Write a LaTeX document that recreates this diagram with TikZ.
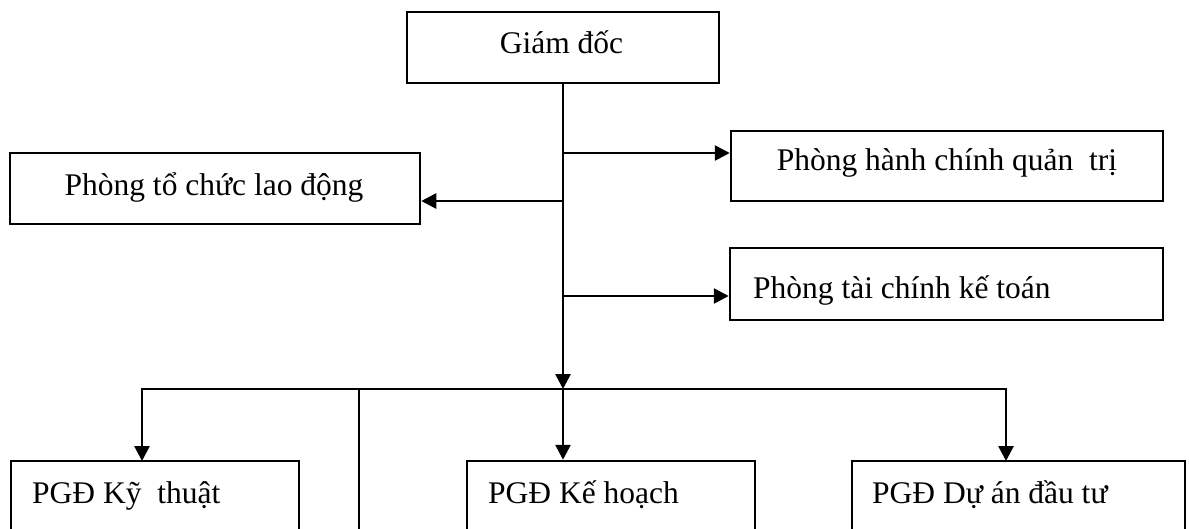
\documentclass[tikz,border=0pt]{standalone}
\usepackage{fontspec}
\setmainfont{Liberation Serif}
\usetikzlibrary{arrows.meta,calc}
\begin{document}
\begin{tikzpicture}[x=1pt,y=-1pt,
  box/.style={draw, line width=2.5pt, inner sep=0pt},
  txt/.style={inner sep=0pt, font=\fontsize{31.5}{36}\selectfont},
  ln/.style={line width=2.7pt},
  arr/.style={line width=2.7pt, -{Triangle[length=15pt,width=15pt]}}]
\useasboundingbox (0,0) rectangle (1189,528);
\clip (0,0) rectangle (1189,528);
% boxes
\node[box, minimum width=312pt, minimum height=71pt] (gd) at (563,47.5) {};
\node[txt, anchor=base] (gdt) at (561.5,53) {Giám đốc};
\node[box, minimum width=432pt, minimum height=70pt] (hc) at (947,166) {};
\node[txt, anchor=base] (hct) at (947,170) {Phòng hành chính quản~ trị};
\node[box, minimum width=410pt, minimum height=71pt] (tc) at (215,188.5) {};
\node[txt, anchor=base] (tct) at (214,195) {Phòng tổ chức lao động};
\node[box, minimum width=433pt, minimum height=72pt] (tk) at (946.5,284) {};
\node[txt, anchor=base west] (tkt) at (753,298) {Phòng tài chính kế toán};
\node[box, minimum width=288pt, minimum height=99pt] (kt) at (155,510.5) {};
\node[txt, anchor=base west] (ktt) at (32,503) {PGĐ Kỹ~ thuật};
\node[box, minimum width=288pt, minimum height=99pt] (kh) at (611,510.5) {};
\node[txt, anchor=base west] (kht) at (488,503) {PGĐ Kế hoạch};
\node[box, minimum width=333pt, minimum height=99pt] (da) at (1018.5,510.5) {};
\node[txt, anchor=base west] (dat) at (872,503) {PGĐ Dự án đầu tư};
% junctions
\coordinate (bus) at (563,389);
\coordinate (jhc) at (563,153);
\coordinate (jtc) at (563,201);
\coordinate (jtk) at (563,296);
\coordinate (ktin) at (142,461);
\coordinate (dain) at (1006,461);
\coordinate (mid) at (359,389);
\coordinate (midend) at (359,540);
% connectors
\draw[arr] (gd.south) -- (bus);
\draw[arr] (jhc) -- (jhc -| hc.west);
\draw[arr] (jtc) -- (jtc -| tc.east);
\draw[arr] (jtk) -- (jtk -| tk.west);
\draw[arr] (bus) -- (bus |- kh.north);
\draw[arr] (bus) -| (ktin);
\draw[arr] (bus) -| (dain);
\draw[ln] (mid) -- (midend);
\end{tikzpicture}
\end{document}
